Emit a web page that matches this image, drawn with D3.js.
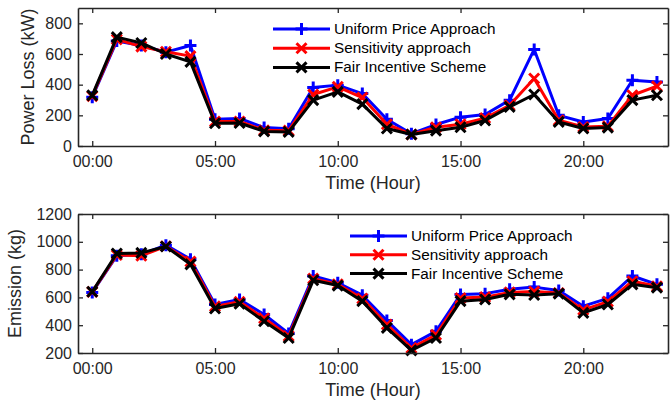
<!DOCTYPE html>
<html>
<head>
<meta charset="utf-8">
<script src="https://cdn.jsdelivr.net/npm/d3@7"></script>
<style>
  body { margin: 0; background: #fff; }
  svg { font-family: "Liberation Sans", Arial, sans-serif; }
</style>
</head>
<body>
<svg id="chart" width="670" height="404"></svg>
<script>
// hours 0..23
const hours = d3.range(24);
const xTicks = [0, 5, 10, 15, 20];
const xTickLabels = ["00:00", "05:00", "10:00", "15:00", "20:00"];

const seriesNames = ["Uniform Price Approach", "Sensitivity approach", "Fair Incentive Scheme"];
const seriesColors = ["#0000ff", "#ff0000", "#000000"];
const seriesMarkers = ["plus", "cross", "cross"];

// Power loss (kW)
const lossUniform = [318, 685, 655, 612, 655, 175, 180, 120, 112, 382, 397, 342, 175, 80, 140, 188, 205, 299, 630, 200, 157, 179, 429, 418];
const lossSensitivity = [325, 695, 648, 615, 586, 160, 160, 102, 100, 336, 386, 316, 142, 75, 122, 142, 182, 266, 440, 168, 124, 129, 331, 390];
const lossFair = [330, 710, 672, 600, 549, 148, 150, 95, 92, 299, 353, 273, 114, 75, 100, 122, 166, 255, 336, 157, 114, 120, 299, 331];

// Emission (kg)
const emisUniform = [636, 900, 910, 976, 875, 549, 585, 477, 340, 754, 705, 616, 434, 260, 356, 621, 627, 658, 674, 650, 537, 593, 754, 694];
const emisSensitivity = [640, 905, 900, 968, 858, 535, 568, 450, 322, 735, 695, 592, 405, 236, 330, 595, 602, 636, 642, 632, 510, 570, 716, 680];
const emisFair = [641, 916, 920, 966, 838, 520, 554, 428, 308, 723, 685, 573, 381, 219, 308, 573, 585, 622, 617, 627, 489, 549, 694, 670];

const lossTicks = [0, 200, 400, 600, 800];
const emisTicks = [200, 400, 600, 800, 1000, 1200];

const svg = d3.select("#chart");
const axisColor = "#262626";

function drawPanel(opts) {
  const x = d3.scaleLinear().domain([-0.58, 23.45]).range([78, 668]);
  const y = d3.scaleLinear().domain(opts.yDomain).range([opts.bottom, opts.top]);
  const g = svg.append("g");

  const line = d3.line().x((d, i) => x(hours[i])).y(d => y(d));

  opts.series.forEach((vals, k) => {
    g.append("path")
      .datum(vals)
      .attr("fill", "none")
      .attr("stroke", seriesColors[k])
      .attr("stroke-width", 3)
      .attr("stroke-linejoin", "round")
      .attr("d", line);
    vals.forEach((v, i) => drawMarker(g, x(hours[i]), y(v), seriesMarkers[k], seriesColors[k]));
  });

  // axes (box with inward ticks on all sides)
  const bottomAxis = d3.axisBottom(x).tickValues(xTicks).tickSizeInner(-5).tickSizeOuter(0)
    .tickFormat((d, i) => xTickLabels[i]).tickPadding(10);
  const topAxis = d3.axisTop(x).tickValues(xTicks).tickSizeInner(-5).tickSizeOuter(0).tickFormat("");
  const leftAxis = d3.axisLeft(y).tickValues(opts.yTicks).tickSizeInner(-5).tickSizeOuter(0)
    .tickFormat(d3.format("d")).tickPadding(6);
  const rightAxis = d3.axisRight(y).tickValues(opts.yTicks).tickSizeInner(-5).tickSizeOuter(0).tickFormat("");

  [[bottomAxis, `translate(0,${opts.bottom})`], [topAxis, `translate(0,${opts.top})`],
   [leftAxis, "translate(78,0)"], [rightAxis, "translate(668,0)"]].forEach(([ax, tr]) => {
    const a = g.append("g").attr("transform", tr).call(ax);
    a.select(".domain").attr("stroke", axisColor).attr("stroke-width", 1.6);
    a.selectAll(".tick line").attr("stroke", axisColor).attr("stroke-width", 1.3);
    a.selectAll("text").attr("fill", axisColor).style("font-size", "16px");
  });

  g.append("text")
    .attr("x", 373).attr("y", opts.bottom + 43)
    .attr("text-anchor", "middle").attr("fill", axisColor)
    .style("font-size", "18px").text("Time (Hour)");

  g.append("text")
    .attr("transform", `translate(${opts.ylabelX},${(opts.top + opts.bottom) / 2}) rotate(-90)`)
    .attr("text-anchor", "middle").attr("fill", axisColor)
    .style("font-size", "18px").text(opts.ylabel);

  // legend
  const lg = g.append("g");
  seriesNames.forEach((name, k) => {
    const yy = opts.legend.y + k * opts.legend.dy;
    lg.append("line")
      .attr("x1", opts.legend.x).attr("x2", opts.legend.x + 57)
      .attr("y1", yy).attr("y2", yy)
      .attr("stroke", seriesColors[k]).attr("stroke-width", 3);
    drawMarker(lg, opts.legend.x + 28.5, yy, seriesMarkers[k], seriesColors[k]);
    lg.append("text")
      .attr("x", opts.legend.x + 61).attr("y", yy + 5)
      .attr("fill", "#000").style("font-size", "15.3px").text(name);
  });
}

function drawMarker(g, cx, cy, type, color) {
  const s = 6;
  const path = type === "plus"
    ? `M${cx - s},${cy}L${cx + s},${cy}M${cx},${cy - s}L${cx},${cy + s}`
    : `M${cx - 5},${cy - 5}L${cx + 5},${cy + 5}M${cx - 5},${cy + 5}L${cx + 5},${cy - 5}`;
  g.append("path").attr("d", path).attr("stroke", color)
    .attr("stroke-width", 3).attr("fill", "none");
}

drawPanel({
  top: 8, bottom: 146, yDomain: [0, 900], yTicks: lossTicks,
  series: [lossUniform, lossSensitivity, lossFair],
  ylabel: "Power Loss (kW)", ylabelX: 34,
  legend: { x: 273, y: 29, dy: 19.2 }
});

drawPanel({
  top: 214, bottom: 353, yDomain: [200, 1200], yTicks: emisTicks,
  series: [emisUniform, emisSensitivity, emisFair],
  ylabel: "Emission (kg)", ylabelX: 21,
  legend: { x: 350, y: 236, dy: 18.8 }
});
</script>
</body>
</html>
